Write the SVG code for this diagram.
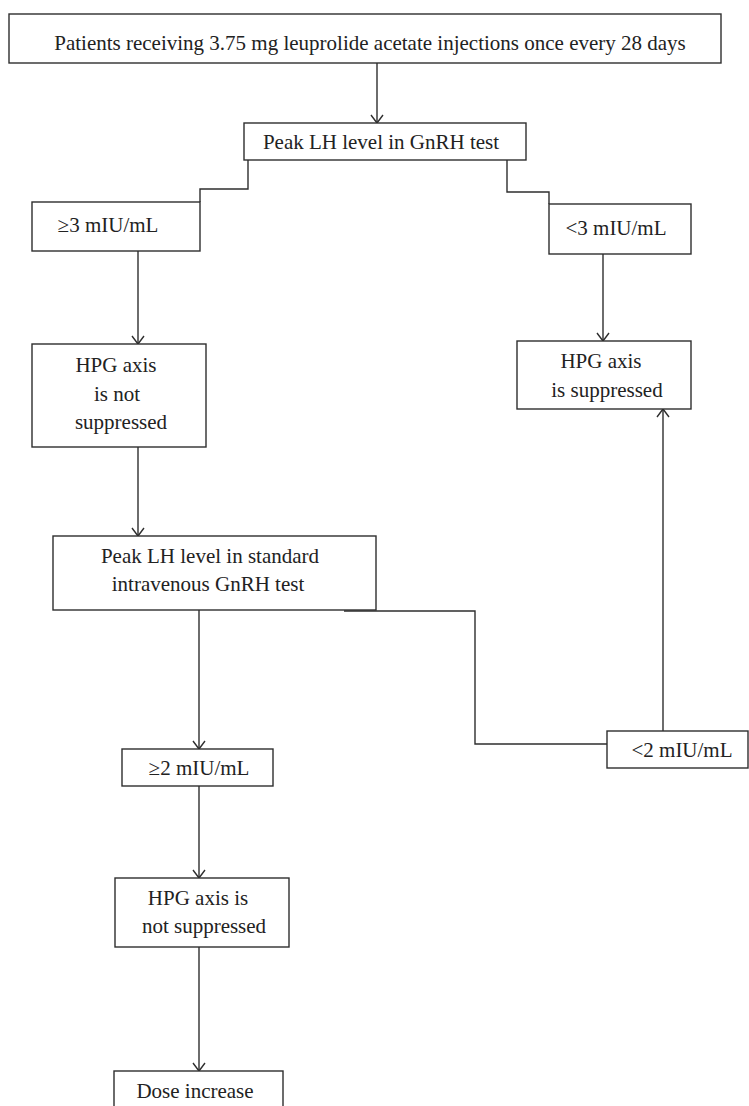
<svg xmlns="http://www.w3.org/2000/svg" width="749" height="1106" viewBox="0 0 749 1106">
<defs>
<style>
.box{fill:#fff;stroke:#2e2e2e;stroke-width:1.4}
.t{font-family:"Liberation Serif","Times New Roman",serif;font-size:21px;fill:#222;text-anchor:middle}
.c{fill:none;stroke:#2e2e2e;stroke-width:1.4}
</style>
<marker id="ah" markerUnits="userSpaceOnUse" markerWidth="12" markerHeight="16" viewBox="-10 -8 12 16" refX="0" refY="0" orient="auto">
<path d="M-8,-6 L0,0 L-8,6" fill="none" stroke="#2e2e2e" stroke-width="1.4"/>
</marker>
</defs>
<rect width="749" height="1106" fill="#fff"/>
<g id="connectors">
<path class="c" d="M377,63 V123" marker-end="url(#ah)"/>
<path class="c" d="M248,160 V189 H200 V202"/>
<path class="c" d="M507,160 V192 H549 V204"/>
<path class="c" d="M138,251 V344" marker-end="url(#ah)"/>
<path class="c" d="M603,254 V341" marker-end="url(#ah)"/>
<path class="c" d="M138,447 V536" marker-end="url(#ah)"/>
<path class="c" d="M199,610 V749" marker-end="url(#ah)"/>
<path class="c" d="M344,611 H475 V744 H607"/>
<path class="c" d="M663,731 V409" marker-end="url(#ah)"/>
<path class="c" d="M199,786 V878" marker-end="url(#ah)"/>
<path class="c" d="M199,947 V1071" marker-end="url(#ah)"/>
</g>
<g id="start">
<rect class="box" x="9" y="14" width="712" height="49"/>
<text class="t" x="370" y="50">Patients receiving 3.75 mg leuprolide acetate injections once every 28 days</text>
</g>
<g id="peak1">
<rect class="box" x="244" y="123" width="282" height="37"/>
<text class="t" x="381" y="149">Peak LH level in GnRH test</text>
</g>
<g id="ge3">
<rect class="box" x="32" y="202" width="168" height="49"/>
<text class="t" x="108" y="232">≥3 mIU/mL</text>
</g>
<g id="lt3">
<rect class="box" x="549" y="204" width="142" height="50"/>
<text class="t" x="616" y="235">&lt;3 mIU/mL</text>
</g>
<g id="hpg-not1">
<rect class="box" x="32" y="344" width="174" height="103"/>
<text class="t" x="116" y="372">HPG axis</text>
<text class="t" x="117" y="401">is not</text>
<text class="t" x="121" y="429">suppressed</text>
</g>
<g id="hpg-supp">
<rect class="box" x="517" y="341" width="174" height="68"/>
<text class="t" x="601" y="368">HPG axis</text>
<text class="t" x="607" y="397">is suppressed</text>
</g>
<g id="peak2">
<rect class="box" x="53" y="536" width="323" height="74"/>
<text class="t" x="210" y="563">Peak LH level in standard</text>
<text class="t" x="208" y="591">intravenous GnRH test</text>
</g>
<g id="lt2">
<rect class="box" x="607" y="731" width="141" height="37"/>
<text class="t" x="682" y="757">&lt;2 mIU/mL</text>
</g>
<g id="ge2">
<rect class="box" x="122" y="749" width="151" height="37"/>
<text class="t" x="199" y="775">≥2 mIU/mL</text>
</g>
<g id="hpg-not2">
<rect class="box" x="115" y="878" width="174" height="69"/>
<text class="t" x="198" y="905">HPG axis is</text>
<text class="t" x="204" y="933">not suppressed</text>
</g>
<g id="dose">
<rect class="box" x="114" y="1071" width="169" height="40"/>
<text class="t" x="195" y="1098">Dose increase</text>
</g>
</svg>
